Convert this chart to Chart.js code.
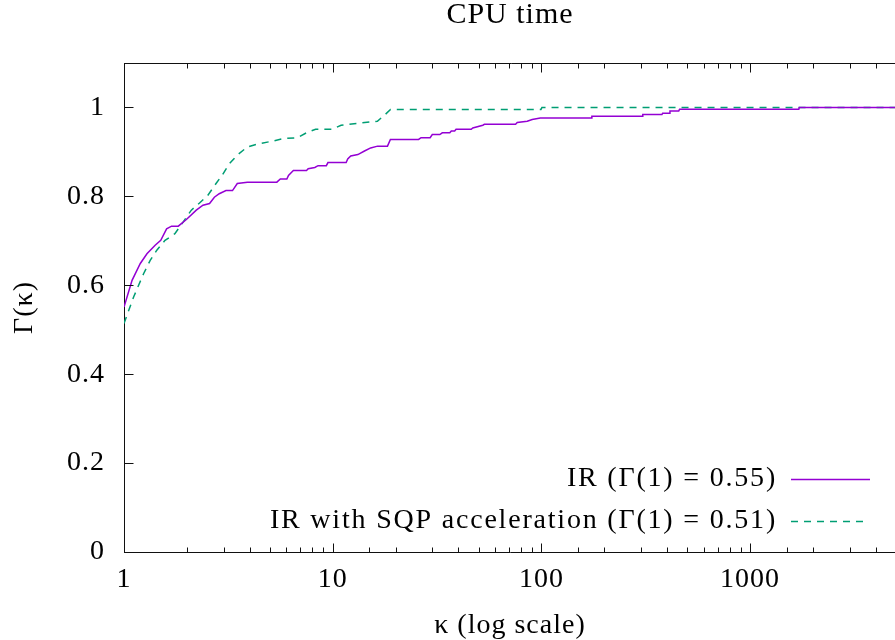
<!DOCTYPE html>
<html>
<head>
<meta charset="utf-8">
<script src="https://cdn.jsdelivr.net/npm/chart.js@4.4.1/dist/chart.umd.min.js"></script>
<style>
    html, body { margin: 0; padding: 0; background: #fff; overflow: hidden; }
    #wrap { position: absolute; left: 0; top: 0; width: 910px; height: 640px; }
</style>
</head>
<body>
<div id="wrap"><canvas id="profile" width="910" height="640"></canvas></div>
<script>
// performance profile values (kappa on log axis, Gamma in [0,1])
const kappaIR = [1, 1.093, 1.197, 1.288, 1.41, 1.5, 1.6, 1.69, 1.82, 1.99,
    2.22, 2.39, 2.57, 2.71, 2.86, 3.08, 3.31, 3.49, 3.9, 5.4,
    5.61, 6.03, 6.14, 6.48, 7.49, 7.63, 8.21, 8.51, 9.32, 9.49,
    11.6, 11.8, 12.2, 13.2, 14.2, 15.2, 16.4, 18.3, 18.9, 25.8,
    26.5, 29.3, 30.0, 32.6, 33.5, 36.4, 37.0, 38.4, 39.0, 46.1,
    46.9, 52.4, 53.3, 75.2, 76.6, 85.5, 90.3, 98.8, 173.6, 174.5,
    304, 306, 378, 381, 410, 413, 455, 459, 1711, 1720, 5000];
const gammaIR = [0.551, 0.611, 0.649, 0.671, 0.690, 0.701, 0.727, 0.733, 0.733, 0.748,
    0.769, 0.780, 0.784, 0.798, 0.806, 0.813, 0.813, 0.829, 0.832, 0.832,
    0.839, 0.839, 0.847, 0.858, 0.858, 0.862, 0.865, 0.869, 0.869, 0.876,
    0.876, 0.884, 0.891, 0.894, 0.902, 0.909, 0.913, 0.913, 0.928, 0.928,
    0.932, 0.932, 0.939, 0.939, 0.943, 0.943, 0.947, 0.947, 0.951, 0.951,
    0.954, 0.960, 0.962, 0.962, 0.966, 0.969, 0.973, 0.976, 0.976, 0.980,
    0.980, 0.984, 0.984, 0.987, 0.987, 0.992, 0.992, 0.996, 0.996, 1.0, 1.0];

const kappaSQP = [1, 1.054, 1.113, 1.175, 1.241, 1.335, 1.436, 1.572, 1.753, 1.919,
    2.102, 2.301, 2.519, 2.761, 2.967, 3.192, 3.494, 3.896, 4.378, 5.117,
    5.811, 6.77, 7.49, 8.28, 9.91, 10.97, 12.33, 16.37, 17.92, 18.92,
    99.5, 100.6, 5000];
const gammaSQP = [0.514, 0.544, 0.574, 0.600, 0.626, 0.656, 0.679, 0.701, 0.716, 0.742,
    0.769, 0.785, 0.802, 0.829, 0.849, 0.873, 0.893, 0.911, 0.918, 0.924,
    0.930, 0.932, 0.943, 0.951, 0.951, 0.960, 0.963, 0.969, 0.985, 0.9955,
    0.9955, 1.0, 1.0];

const seriesLabels = ['IR (Γ(1) = 0.55)', 'IR with SQP acceleration (Γ(1) = 0.51)'];
const xLabelTicks = [1, 10, 100, 1000];

const FONT = '"Liberation Serif", "Times New Roman", serif';

// a little extra tracking so the Times-like font fills the space of the TeX font
const trackingPlugin = {
    id: 'tracking',
    beforeDraw(chart) {
        chart.ctx.letterSpacing = '1px';
    }
};

// gnuplot-like frame: top border and inward tick marks
const framePlugin = {
    id: 'frame',
    afterDraw(chart) {
        const ctx = chart.ctx;
        const area = chart.chartArea;
        const xs = chart.scales.x;
        const ys = chart.scales.y;
        const top = Math.round(area.top) + 0.5;
        const bottom = Math.round(area.bottom) + 0.5;
        const left = Math.round(area.left) + 0.5;
        ctx.save();
        ctx.strokeStyle = '#111';
        ctx.lineWidth = 1;
        ctx.beginPath();
        ctx.moveTo(left, top);
        ctx.lineTo(area.right + 2, top);
        xs.ticks.forEach(t => {
            const px = Math.round(xs.getPixelForValue(t.value)) + 0.5;
            const len = xLabelTicks.includes(t.value) ? 9 : 5;
            ctx.moveTo(px, bottom);
            ctx.lineTo(px, bottom - len);
            ctx.moveTo(px, top);
            ctx.lineTo(px, top + len);
        });
        ys.ticks.forEach(t => {
            const py = Math.round(ys.getPixelForValue(t.value)) + 0.5;
            ctx.moveTo(left, py);
            ctx.lineTo(left + 9, py);
        });
        ctx.stroke();
        ctx.restore();
    }
};

// legend in gnuplot style: text right-aligned, sample line on the right
const keyPlugin = {
    id: 'key',
    afterDraw(chart) {
        const ctx = chart.ctx;
        ctx.save();
        ctx.font = '28px ' + FONT;
        ctx.letterSpacing = '1.8px';
        ctx.textAlign = 'right';
        ctx.textBaseline = 'middle';
        chart.data.datasets.forEach((ds, i) => {
            const y = 479 + i * 42;
            ctx.fillStyle = '#000';
            ctx.fillText(ds.label, 777, y);
            ctx.strokeStyle = ds.borderColor;
            ctx.lineWidth = ds.borderWidth;
            ctx.setLineDash(ds.borderDash || []);
            ctx.beginPath();
            ctx.moveTo(791, y + 0.5);
            ctx.lineTo(i ? 863 : 870, y + 0.5);
            ctx.stroke();
        });
        ctx.restore();
    }
};

const ctx = document.getElementById('profile').getContext('2d');
new Chart(ctx, {
    type: 'line',
    data: {
        datasets: [{
            label: seriesLabels[0],
            data: kappaIR.map((k, i) => ({ x: k, y: gammaIR[i] })),
            borderColor: '#9400d3',
            borderWidth: 1.5,
            pointRadius: 0,
            tension: 0,
            fill: false
        }, {
            label: seriesLabels[1],
            data: kappaSQP.map((k, i) => ({ x: k, y: gammaSQP[i] })),
            borderColor: '#009e73',
            borderWidth: 1.5,
            borderDash: [7, 6],
            pointRadius: 0,
            tension: 0,
            fill: false
        }]
    },
    options: {
        responsive: false,
        animation: false,
        layout: { padding: { top: 0, right: 5, bottom: 0, left: 0 } },
        plugins: {
            legend: { display: false },
            tooltip: { enabled: false },
            title: {
                display: true,
                text: 'CPU time',
                color: '#000',
                fullSize: false,
                font: { family: FONT, size: 30, weight: 'normal', lineHeight: 1 },
                padding: { top: 0, bottom: 33 }
            }
        },
        scales: {
            x: {
                type: 'logarithmic',
                min: 1,
                max: 5000,
                afterFit: s => { s.height = 88; },
                grid: { drawOnChartArea: false, drawTicks: false },
                border: { display: true, color: '#111', width: 1 },
                ticks: {
                    autoSkip: false,
                    maxRotation: 0,
                    padding: 14,
                    color: '#000',
                    font: { family: FONT, size: 28, lineHeight: 1 },
                    callback: v => xLabelTicks.includes(v) ? String(v) : ''
                },
                title: {
                    display: true,
                    text: 'κ (log scale)',
                    color: '#000',
                    font: { family: FONT, size: 28, lineHeight: 1 },
                    padding: { top: 0, bottom: 0 }
                }
            },
            y: {
                min: 0,
                max: 1.1,
                afterFit: s => { s.width = 124; },
                grid: { drawOnChartArea: false, drawTicks: false },
                border: { display: true, color: '#111', width: 1 },
                ticks: {
                    stepSize: 0.2,
                    includeBounds: false,
                    padding: 19,
                    color: '#000',
                    font: { family: FONT, size: 28, lineHeight: 1 },
                    callback: v => String(+v.toFixed(1))
                },
                title: {
                    display: true,
                    text: 'Γ(κ)',
                    color: '#000',
                    font: { family: FONT, size: 28, lineHeight: 1 },
                    padding: { top: 11, bottom: 0 }
                }
            }
        }
    },
    plugins: [trackingPlugin, framePlugin, keyPlugin]
});
</script>
</body>
</html>
